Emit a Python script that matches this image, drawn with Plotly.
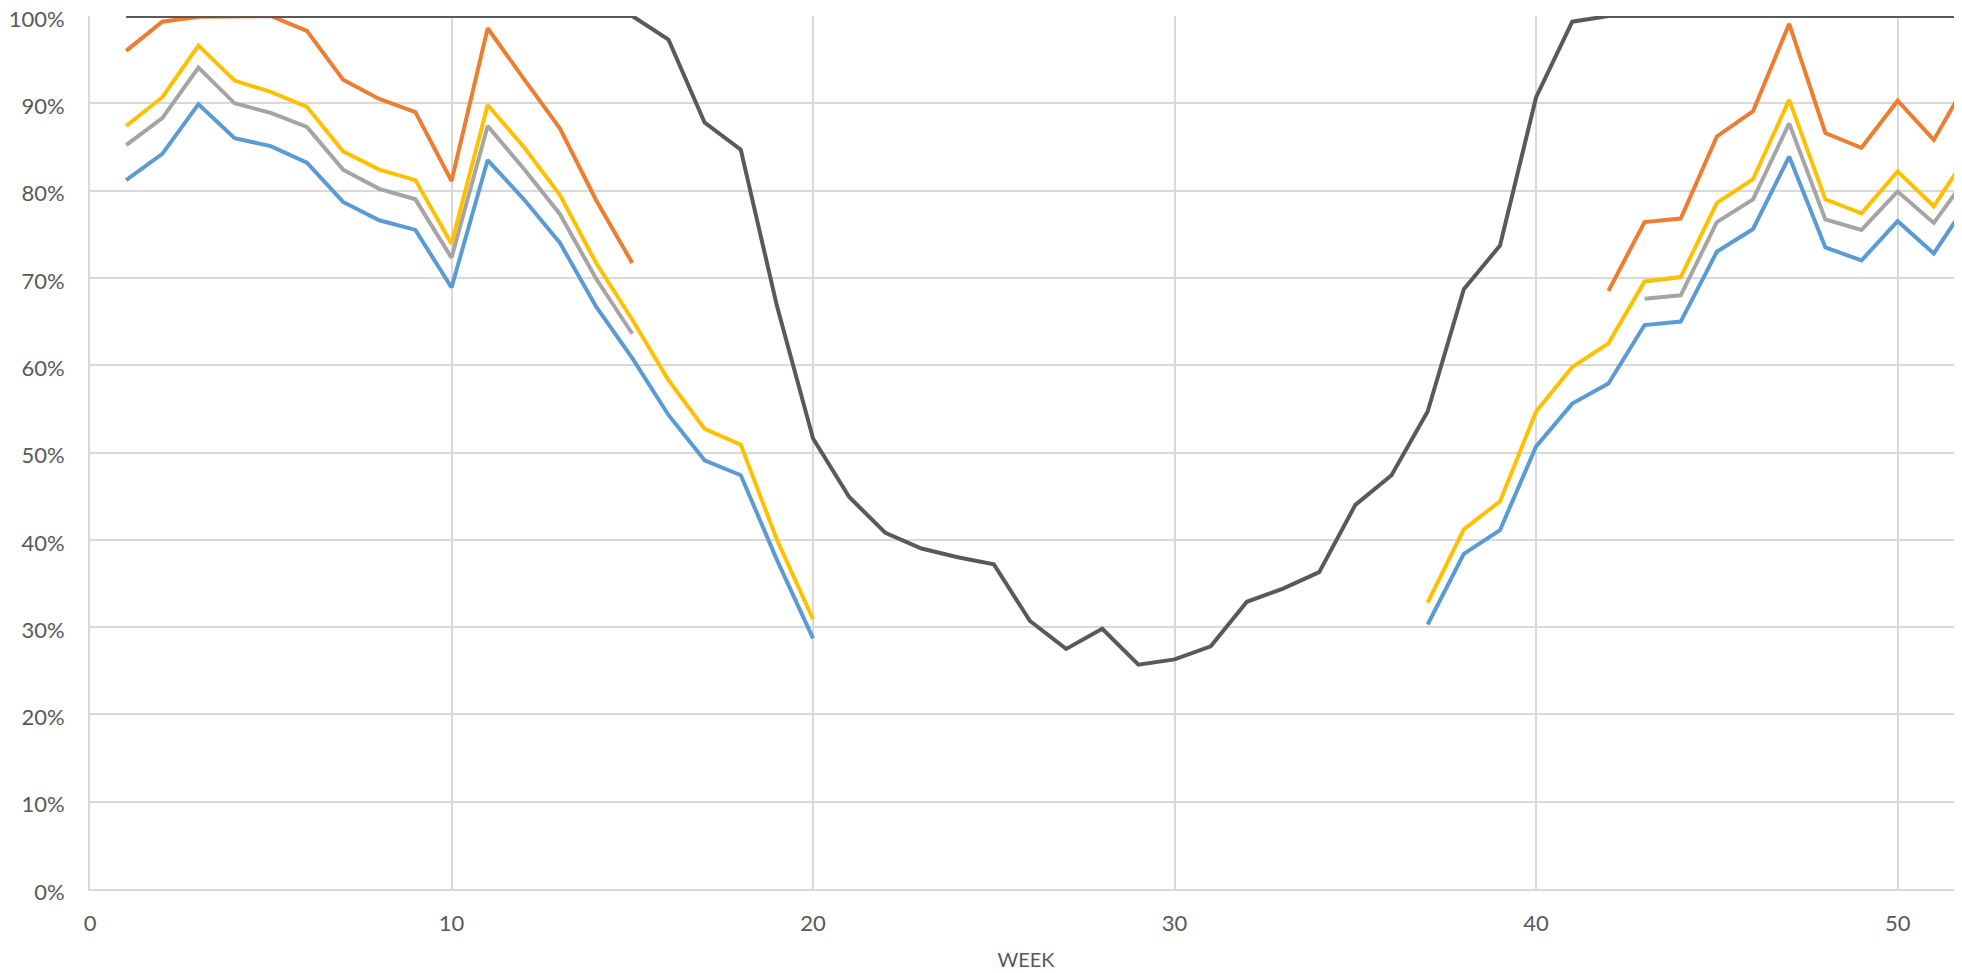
import plotly.graph_objects as go

weeks = list(range(1, 53))
N = None

blue = [81.2, 84.2, 89.9, 86.0, 85.1, 83.2, 78.7, 76.6, 75.5, 68.9,
        83.5, 79.0, 74.0, 66.7, 60.8, 54.3, 49.1, 47.4, 37.7, 28.7,
        N, N, N, N, N, N, N, N, N, N, N, N, N, N, N, N,
        30.3, 38.4, 41.1, 50.7, 55.6, 57.9, 64.6, 65.0, 73.0, 75.6,
        83.9, 73.5, 72.0, 76.5, 72.8, 79.0]

orange = [96.0, 99.35, 99.9, 100, 100, 98.3, 92.7, 90.5, 89.0, 81.1,
          98.6, 92.8, 87.1, 78.9, 71.7,
          N, N, N, N, N, N, N, N, N, N, N, N, N, N, N, N, N, N, N, N, N, N, N, N, N, N,
          68.5, 76.4, 76.8, 86.2, 89.1, 99.1, 86.6, 84.9, 90.3, 85.8, 93.0]

gray = [85.2, 88.3, 94.1, 90.0, 88.9, 87.3, 82.4, 80.2, 79.0, 72.3,
        87.4, 82.5, 77.3, 69.9, 63.6,
        N, N, N, N, N, N, N, N, N, N, N, N, N, N, N, N, N, N, N, N, N, N, N, N, N, N, N,
        67.6, 68.0, 76.4, 79.0, 87.7, 76.7, 75.5, 79.9, 76.3, 82.0]

yellow = [87.4, 90.7, 96.6, 92.6, 91.3, 89.6, 84.5, 82.4, 81.2, 73.9,
          89.8, 85.0, 79.5, 71.7, 65.2, 58.3, 52.7, 50.9, 40.0, 30.9,
          N, N, N, N, N, N, N, N, N, N, N, N, N, N, N, N,
          32.8, 41.2, 44.4, 54.7, 59.8, 62.5, 69.6, 70.1, 78.6, 81.3,
          90.4, 79.0, 77.4, 82.2, 78.2, 84.5]

dark = [100, 100, 100, 100, 100, 100, 100, 100, 100, 100,
        100, 100, 100, 100, 100, 97.3, 87.8, 84.7, 66.8, 51.6,
        44.9, 40.8, 39.0, 38.0, 37.2, 30.7, 27.5, 29.8, 25.7, 26.3,
        27.8, 32.9, 34.4, 36.3, 44.0, 47.4, 54.7, 68.7, 73.7, 90.7,
        99.35, 100, 100, 100, 100, 100, 100, 100, 100, 100, 100, 100]

series = [
    ("Series 1", blue, "#5B9BD5"),
    ("Series 2", orange, "#ED7D31"),
    ("Series 3", gray, "#A5A5A5"),
    ("Series 4", yellow, "#FFC000"),
    ("Series 5", dark, "#595959"),
]

fig = go.Figure()
for name, vals, col in series:
    fig.add_trace(go.Scatter(
        x=weeks,
        y=[v / 100 if v is not None else None for v in vals],
        mode="lines", name=name,
        line=dict(color=col, width=4),
        connectgaps=False, cliponaxis=False,
    ))

font_fam = "Lato, 'Open Sans', sans-serif"
fig.update_layout(
    width=1962, height=973,
    margin=dict(l=82, r=8, t=8, b=92),
    paper_bgcolor="white", plot_bgcolor="white",
    showlegend=False,
    font=dict(family=font_fam, color="#595959", size=22),
)
fig.update_xaxes(
    range=[0, 51.78], dtick=10, tick0=0, automargin=False,
    showgrid=True, gridcolor="#D9D9D9", gridwidth=1.8,
    zeroline=False, showline=True, linecolor="#D9D9D9", linewidth=1.8,
    ticklabelstandoff=14, ticklabeloverflow="allow",
    tickfont=dict(size=22, color="#595959"),
    title=dict(text="WEEK", font=dict(size=20, color="#595959"), standoff=18),
)
fig.update_yaxes(
    range=[0, 1], dtick=0.1, tickformat=".0%", automargin=False,
    showgrid=True, gridcolor="#D9D9D9", gridwidth=1.8,
    zeroline=False, showline=True, linecolor="#D9D9D9", linewidth=1.8,
    ticklabelstandoff=19, ticklabeloverflow="allow", ticklabelshift=3,
    tickfont=dict(size=22, color="#595959"),
)

fig.write_html("out.html")
